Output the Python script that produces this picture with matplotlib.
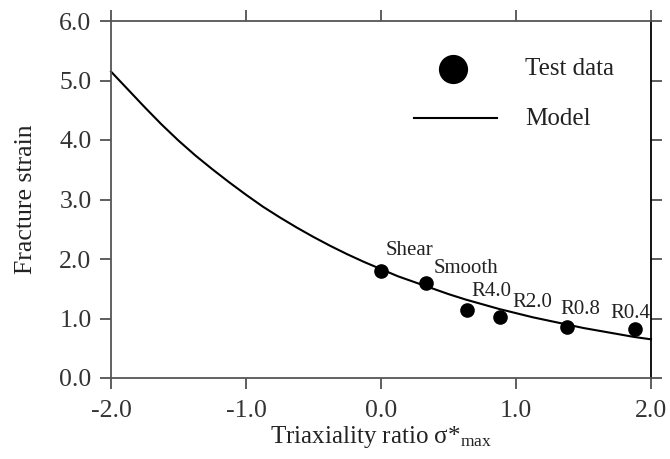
import matplotlib
matplotlib.use("Agg")
import matplotlib.pyplot as plt

plt.rcParams['font.family'] = ['Liberation Serif', 'DejaVu Serif']
plt.rcParams['mathtext.fontset'] = 'custom'
plt.rcParams['mathtext.rm'] = 'Liberation Serif'
plt.rcParams['mathtext.it'] = 'Liberation Serif:italic'

# Model curve
model_x = [-2.0, -1.875, -1.75, -1.625, -1.5, -1.375, -1.25, -1.125, -1.0,
           -0.875, -0.75, -0.625, -0.5, -0.375, -0.25, -0.125, 0.0,
           0.125, 0.25, 0.375, 0.5, 0.625, 0.75, 0.875, 1.0,
           1.125, 1.25, 1.375, 1.5, 1.625, 1.75, 1.875, 2.0]
model_y = [5.15, 4.85, 4.55, 4.26, 3.99, 3.74, 3.51, 3.29, 3.08,
           2.88, 2.70, 2.53, 2.37, 2.22, 2.08, 1.95, 1.83,
           1.71, 1.61, 1.51, 1.41, 1.32, 1.24, 1.16, 1.09,
           1.02, 0.96, 0.90, 0.84, 0.79, 0.74, 0.69, 0.65]

# Test data
test_labels = ['Shear', 'Smooth', 'R4.0', 'R2.0', 'R0.8', 'R0.4']
test_x = [0.0, 0.33, 0.64, 0.88, 1.38, 1.88]
test_y = [1.80, 1.60, 1.14, 1.02, 0.86, 0.83]
label_offsets = [(5, 16), (8, 10), (4, 14), (13, 10), (-7, 13), (-24, 11)]

xticks = [-2.0, -1.0, 0.0, 1.0, 2.0]
yticks = [0.0, 1.0, 2.0, 3.0, 4.0, 5.0, 6.0]

fig = plt.figure(figsize=(6.7, 4.59), dpi=100)
ax = fig.add_axes([111/670, 1-378/459, 540/670, 357/459])

ax.plot(model_x, model_y, color='black', lw=1.5, clip_on=False)
ax.plot(test_x, test_y, 'o', color='black', ms=9.5, clip_on=False, zorder=3)

for lab, x, y, off in zip(test_labels, test_x, test_y, label_offsets):
    ax.annotate(lab, (x, y), xytext=off, textcoords='offset pixels',
                ha='left', va='baseline', fontsize=15, color='#222222')

ax.set_xlim(-2, 2)
ax.set_ylim(0, 6)
ax.set_xticks(xticks)
ax.set_yticks(yticks)
ax.set_xticklabels([f'{v:.1f}' for v in xticks])
ax.set_yticklabels([f'{v:.1f}' for v in yticks])

ax.tick_params(direction='out', length=8, width=1.1, labelsize=18.5,
               top=True, right=True, colors='#333333')
ax.tick_params(axis='x', pad=8)
ax.tick_params(axis='y', pad=6)
for s in ax.spines.values():
    s.set_linewidth(1.3)
    s.set_color('#555555')
ax.spines['right'].set_color('black')

ax.set_xlabel('Triaxiality ratio σ*$_{\\mathrm{max}}$', fontsize=18, labelpad=1, color='#222222')
ax.set_ylabel('Fracture strain', fontsize=18.5, labelpad=16, color='#222222')

# Legend (manual placement)
ax.plot([0.633], [0.866], 'o', color='black', ms=20, transform=ax.transAxes)
ax.plot([0.562, 0.714], [0.728, 0.728], color='black', lw=1.5, transform=ax.transAxes)
ax.text(0.767, 0.866, 'Test data', transform=ax.transAxes, fontsize=18,
        va='center', ha='left', color='#222222')
ax.text(0.767, 0.725, 'Model', transform=ax.transAxes, fontsize=18,
        va='center', ha='left', color='#222222')

fig.savefig('out.png', dpi=100)
